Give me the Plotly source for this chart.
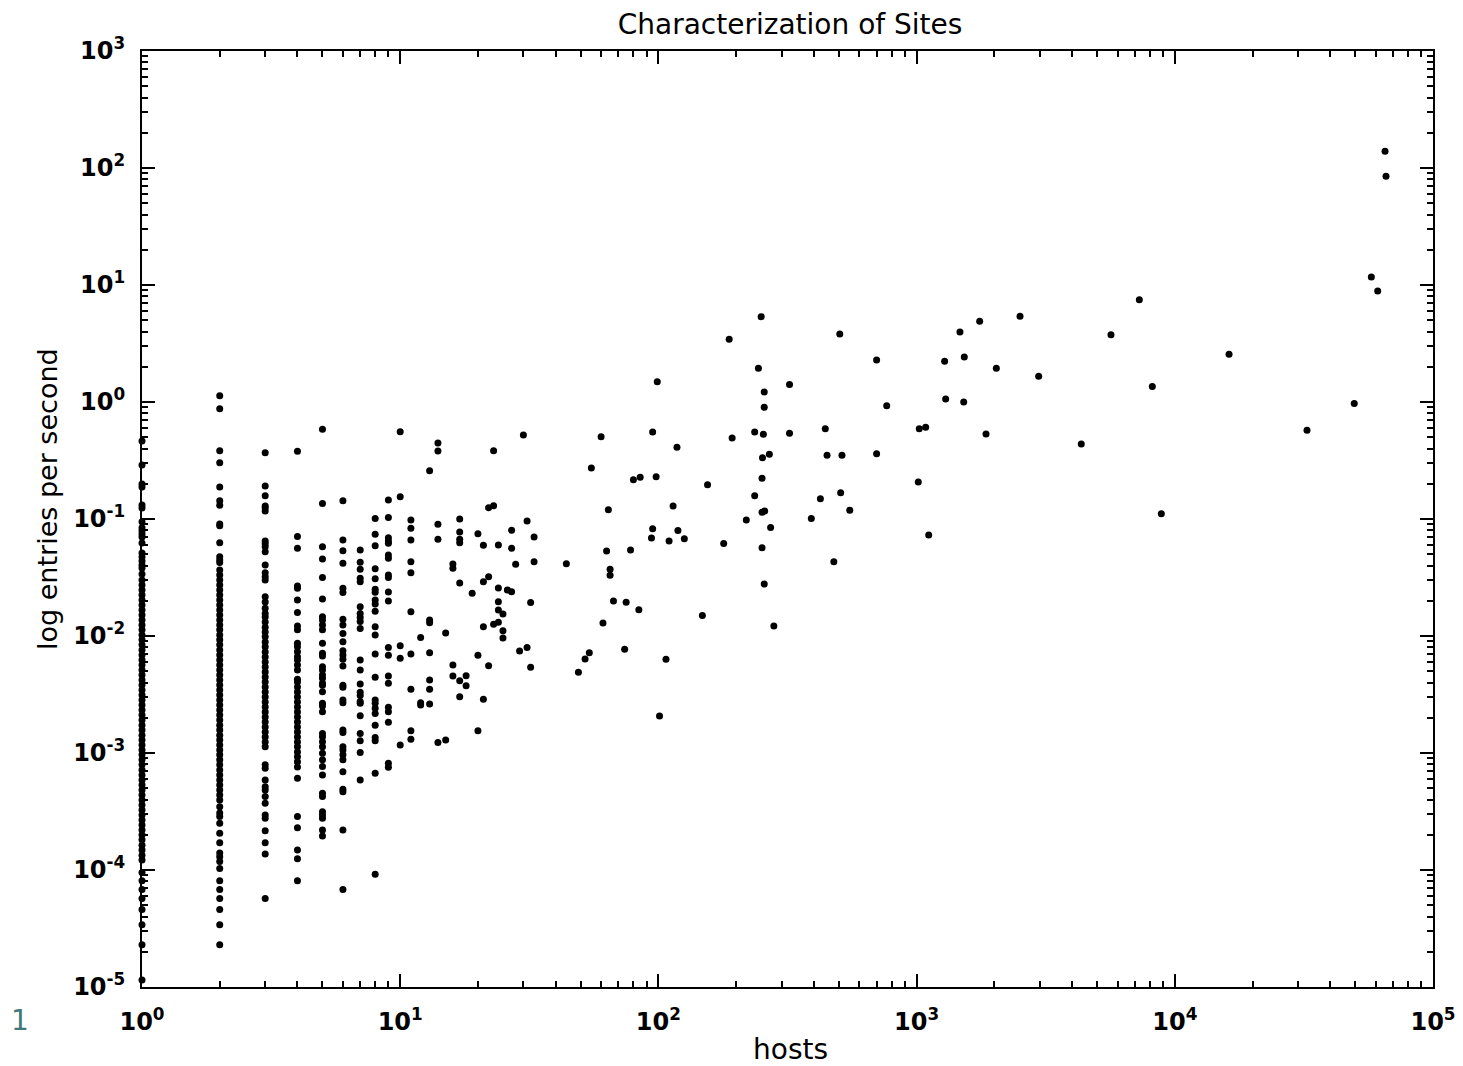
import plotly.graph_objects as go

# values per host count (integer columns 1..13)
rate_h1 = [0.465, 0.289, 0.199, 0.188, 0.132, 0.124, 0.0945, 0.084, 0.0792, 0.0745, 0.0702, 0.0624,
           0.0513, 0.0473, 0.0438, 0.0405, 0.0381, 0.0339, 0.0301, 0.0273, 0.0247, 0.0224, 0.0203,
           0.0184, 0.0167, 0.0151, 0.0137, 0.0124, 0.0113, 0.0102, 0.00927, 0.0084, 0.00761, 0.00688,
           0.00624, 0.00565, 0.00512, 0.00464, 0.00421, 0.00381, 0.00345, 0.00313, 0.00284, 0.00257,
           0.00233, 0.00211, 0.00191, 0.00173, 0.00157, 0.00142, 0.00129, 0.00117, 0.00106, 9.65e-4,
           8.74e-4, 7.92e-4, 7.17e-4, 6.5e-4, 5.89e-4, 5.33e-4, 4.83e-4, 4.38e-4, 3.97e-4, 3.59e-4,
           3.26e-4, 2.95e-4, 2.67e-4, 2.42e-4, 2.2e-4, 1.99e-4, 1.81e-4, 1.63e-4, 1.48e-4, 1.34e-4,
           1.22e-4, 9.5e-5, 8.1e-5, 6.8e-5, 5.7e-5, 4.6e-5, 3.4e-5, 2.3e-5, 1.15e-5]
rate_h2 = [1.13, 0.877, 0.383, 0.303, 0.188, 0.143, 0.131, 0.0906, 0.0874, 0.0627, 0.0476, 0.0447,
           0.0424, 0.0366, 0.0332, 0.0301, 0.0273, 0.0247, 0.0224, 0.0203, 0.0184, 0.0167, 0.0151,
           0.0137, 0.0124, 0.0113, 0.0102, 0.00927, 0.0084, 0.00761, 0.00688, 0.00624, 0.00565,
           0.00512, 0.00464, 0.00421, 0.00381, 0.00345, 0.00313, 0.00284, 0.00257, 0.00233, 0.00211,
           0.00191, 0.00173, 0.00157, 0.00142, 0.00129, 0.00117, 0.00106, 9.65e-4, 8.74e-4, 7.92e-4,
           7.17e-4, 6.5e-4, 5.89e-4, 5.33e-4, 4.83e-4, 4.38e-4, 3.97e-4, 3.48e-4, 3.07e-4, 2.86e-4,
           2.51e-4, 2.06e-4, 1.71e-4, 1.4e-4, 1.3e-4, 1.18e-4, 1.03e-4, 8.1e-5, 6.8e-5, 5.7e-5,
           4.6e-5, 3.4e-5, 2.3e-5]
rate_h3 = [0.369, 0.191, 0.158, 0.129, 0.124, 0.117, 0.065, 0.0613, 0.058, 0.0525, 0.0405, 0.0348,
           0.0321, 0.0301, 0.0217, 0.0195, 0.0173, 0.0156, 0.0145, 0.0132, 0.0119, 0.0108, 0.00985,
           0.0089, 0.00808, 0.0073, 0.00662, 0.006, 0.00544, 0.00493, 0.00447, 0.00405, 0.00366,
           0.00332, 0.00301, 0.00273, 0.00247, 0.00224, 0.00203, 0.00184, 0.00167, 0.00151, 0.00137,
           0.00124, 0.00113, 7.92e-4, 7.4e-4, 5.89e-4, 5.15e-4, 4.83e-4, 4.24e-4, 3.72e-4, 2.95e-4,
           2.77e-4, 2.17e-4, 1.71e-4, 1.37e-4, 5.7e-5]
rate_h4 = [0.379, 0.0707, 0.0562, 0.0267, 0.0256, 0.0203, 0.0159, 0.0122, 0.0113, 0.00868, 0.0081,
           0.00735, 0.00665, 0.00624, 0.00565, 0.00512, 0.00427, 0.00405, 0.00366, 0.00332, 0.00301,
           0.00273, 0.00247, 0.00224, 0.00203, 0.00184, 0.00167, 0.00151, 0.00137, 0.00124, 0.00113,
           0.00102, 9.27e-4, 8.4e-4, 7.61e-4, 6.09e-4, 2.86e-4, 2.3e-4, 1.48e-4, 1.25e-4, 8.1e-5]
rate_h5 = [0.585, 0.136, 0.058, 0.0456, 0.0317, 0.0207, 0.0146, 0.0137, 0.0124, 0.0113, 0.00868,
           0.00711, 0.00675, 0.00547, 0.00512, 0.00464, 0.00435, 0.00394, 0.0038, 0.00334, 0.00266,
           0.00252, 0.00225, 0.00147, 0.00138, 0.00125, 0.00113, 9.94e-4, 8.74e-4, 7.65e-4, 6.5e-4,
           4.52e-4, 4.24e-4, 3.15e-4, 2.95e-4, 2.77e-4, 2.2e-4, 1.95e-4]
rate_h6 = [0.143, 0.0662, 0.0536, 0.0418, 0.0256, 0.0235, 0.0139, 0.0124, 0.0105, 0.00894, 0.00749,
           0.00688, 0.00632, 0.00554, 0.0038, 0.00364, 0.00284, 0.00269, 0.00157, 0.0015, 0.00113,
           0.00106, 9.65e-4, 8.74e-4, 6.92e-4, 4.9e-4, 4.67e-4, 2.2e-4, 6.8e-5]
rate_h7 = [0.0544, 0.0427, 0.0372, 0.0311, 0.0291, 0.0178, 0.0156, 0.0144, 0.0133, 0.0116, 0.00624,
           0.00512, 0.00389, 0.0033, 0.0031, 0.00275, 0.00266, 0.00208, 0.00147, 0.00127, 0.00101,
           5.89e-4]
rate_h8 = [0.101, 0.074, 0.0592, 0.0376, 0.0309, 0.0251, 0.0236, 0.0203, 0.0188, 0.0163, 0.012,
           0.0102, 0.00702, 0.00444, 0.00284, 0.00266, 0.00241, 0.00218, 0.00173, 0.00136, 0.00127,
           6.7e-4, 9.2e-5]
rate_h9 = [0.145, 0.103, 0.0692, 0.065, 0.062, 0.0493, 0.0461, 0.0332, 0.0317, 0.0238, 0.0199,
           0.00796, 0.00684, 0.00456, 0.00394, 0.00246, 0.00225, 0.00183, 8.16e-4, 7.55e-4]
rate_h10 = [0.557, 0.155, 0.00827, 0.00645, 0.00117]
rate_h11 = [0.098, 0.0834, 0.0662, 0.0432, 0.0348, 0.0161, 0.00702, 0.0035, 0.00155, 0.00131]
rate_h12 = [0.00973, 0.00269, 0.00257]
rate_h13 = [0.259, 0.0137, 0.013, 0.0072, 0.00421, 0.0035, 0.00262]

columns = [rate_h1, rate_h2, rate_h3, rate_h4, rate_h5, rate_h6, rate_h7,
           rate_h8, rate_h9, rate_h10, rate_h11, rate_h12, rate_h13]

# remaining sites
other_hosts = [14, 14, 14, 14, 14, 15, 15, 16, 16, 16, 16, 17, 17, 17, 17, 17, 17, 17, 18, 18,
               19, 20, 20, 20, 21, 21, 21, 21, 22, 22, 22, 23, 23, 23, 24, 24, 24, 24, 24,
               25, 25, 25, 26, 27, 27, 27, 28, 29, 30, 31, 31, 32, 32, 33, 33, 44, 49, 52, 54,
               55, 60, 61, 63, 64, 65, 65, 67, 74, 75, 78, 80, 84, 85, 94, 95, 95, 98, 99,
               101, 107, 110, 114, 118, 119, 126, 148, 155, 179, 188, 193, 219, 236, 236, 244,
               250, 252, 252, 252, 253, 255, 257, 257, 257, 258, 269, 272, 280, 322, 322, 391,
               424, 443, 450, 478, 504, 508, 514, 551, 700, 700, 766, 1015, 1024, 1084, 1114,
               1284, 1296, 1472, 1522, 1530, 1755, 1857, 2036, 2515, 2970, 4343, 5660, 7288,
               8184, 8867, 16220, 32510, 49550, 57700, 61070, 65200, 65770]
other_rate = [0.447, 0.381, 0.09, 0.067, 0.00123, 0.0106, 0.00129, 0.0412, 0.0379, 0.00565, 0.00456,
              0.1, 0.0776, 0.067, 0.0627, 0.0284, 0.00415, 0.00303, 0.00458, 0.00376,
              0.0232, 0.0749, 0.00684, 0.00155, 0.0596, 0.0291, 0.012, 0.00288, 0.125, 0.0321, 0.00557,
              0.383, 0.13, 0.0126, 0.06, 0.0257, 0.0196, 0.0167, 0.0131,
              0.0154, 0.0111, 0.0096, 0.0247, 0.08, 0.0562, 0.0239, 0.041, 0.00745, 0.523, 0.096, 0.00796,
              0.0193, 0.0054, 0.0702, 0.0432, 0.0415, 0.0049, 0.00636, 0.0072,
              0.273, 0.505, 0.0129, 0.0533, 0.12, 0.0372, 0.033, 0.0199, 0.0077, 0.0194, 0.0544, 0.217,
              0.0168, 0.227, 0.0688, 0.0827, 0.554, 0.23, 1.49,
              0.00207, 0.00632, 0.065, 0.129, 0.41, 0.0796, 0.0678, 0.015, 0.196, 0.0616, 3.43, 0.493,
              0.098, 0.554, 0.158, 1.94,
              5.36, 0.223, 0.114, 0.0569, 0.334, 0.53, 0.0278, 1.22, 0.9, 0.117, 0.357, 0.0844, 0.0122,
              1.41, 0.54, 0.101,
              0.149, 0.592, 0.35, 0.0432, 3.81, 0.168, 0.35, 0.119, 2.29, 0.361, 0.93, 0.207, 0.592,
              0.609, 0.073,
              2.23, 1.06, 3.97, 1.0, 2.42, 4.9, 0.533, 1.94, 5.4, 1.66, 0.438, 3.76, 7.49,
              1.36, 0.111, 2.56, 0.573, 0.97, 11.7, 8.9, 139, 85]

x_tickvals = [1, 10, 100, 1000, 10000, 100000]
x_ticktext = ["10<sup>0</sup>", "10<sup>1</sup>", "10<sup>2</sup>", "10<sup>3</sup>",
              "10<sup>4</sup>", "10<sup>5</sup>"]
y_tickvals = [1e-5, 1e-4, 1e-3, 1e-2, 1e-1, 1, 10, 100, 1000]
y_ticktext = ["10<sup>-5</sup>", "10<sup>-4</sup>", "10<sup>-3</sup>", "10<sup>-2</sup>",
              "10<sup>-1</sup>", "10<sup>0</sup>", "10<sup>1</sup>", "10<sup>2</sup>", "10<sup>3</sup>"]

hosts = []
rates = []
for i, col in enumerate(columns):
    hosts += [i + 1] * len(col)
    rates += col
hosts += other_hosts
rates += other_rate

fig = go.Figure()
fig.add_trace(go.Scatter(
    x=hosts, y=rates, mode="markers",
    marker=dict(color="black", size=7, line=dict(width=0)),
    cliponaxis=False, showlegend=False,
))

font_family = "DejaVu Sans, Verdana, sans-serif"
axis_common = dict(
    type="log", showgrid=False, zeroline=False, automargin=False,
    showline=True, linecolor="black", linewidth=2, mirror="allticks",
    ticks="inside", ticklen=13, tickwidth=2, tickcolor="black",
    tickmode="array",
    tickfont=dict(family=font_family, size=24, color="black", weight="bold"),
    minor=dict(ticks="inside", ticklen=6, tickwidth=2, tickcolor="black", dtick="D1", showgrid=False),
)

fig.update_xaxes(range=[0, 5], tickvals=x_tickvals, ticktext=x_ticktext, ticklabelstandoff=12,
                 **axis_common)
fig.update_yaxes(range=[-5, 3], tickvals=y_tickvals, ticktext=y_ticktext, ticklabelstandoff=10,
                 **axis_common)

# axis titles placed as annotations so they sit where the reference has them
fig.add_annotation(text="hosts", xref="paper", yref="paper", x=0.5027, y=-0.0673,
                   xanchor="center", yanchor="middle", showarrow=False,
                   font=dict(family=font_family, size=28, color="black"))
fig.add_annotation(text="log entries per second", xref="paper", yref="paper", x=-0.0728, y=0.5214,
                   xanchor="center", yanchor="middle", textangle=-90, showarrow=False,
                   font=dict(family=font_family, size=27, color="black"))
fig.add_annotation(text="1", xref="paper", yref="paper", x=-0.0945, y=-0.0353,
                   xanchor="center", yanchor="middle",
                   showarrow=False, font=dict(family=font_family, size=28, color="#3f7a78"))

# the page adds an 8px body margin, so size and margins are offset to keep the frame in place
fig.update_layout(
    width=1455, height=1058,
    paper_bgcolor="white", plot_bgcolor="white",
    margin=dict(l=134, r=30, t=43, b=79),
    title=dict(text="Characterization of Sites", x=0.5375, xanchor="center", y=0.985, yanchor="middle",
               font=dict(family=font_family, size=28, color="black")),
)

fig.write_html("out.html")
